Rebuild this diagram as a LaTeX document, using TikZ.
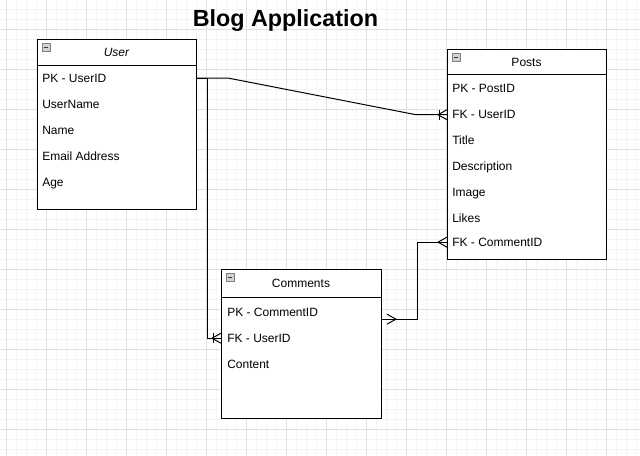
\documentclass[tikz,border=0pt]{standalone}
\usepackage{fontspec}
\setmainfont{Liberation Sans}
\usetikzlibrary{calc}

\definecolor{minorgrid}{HTML}{F4F4F4}
\definecolor{majorgrid}{HTML}{E0E0E0}

\tikzset{
  entity/.style={draw, line width=0.75pt, anchor=north west, inner sep=0pt},
  attr/.style={anchor=base west, inner sep=0pt, font=\fontsize{9}{11}\selectfont},
  head/.style={anchor=base, inner sep=0pt, font=\fontsize{9}{11}\selectfont},
  conn/.style={line width=0.75pt},
  collapse/.pic={
    \draw[draw=gray, fill=gray!35, line width=0.6pt] (5,4.5) rectangle (13,12);
    \draw[line width=0.8pt, black!80] (7,8.25) -- (11,8.25);
  },
  crowfoot/.pic={% fork opens toward the entity at the origin
    \draw[conn] (-9,0) -- (0,-5) (-9,0) -- (0,5);
  },
  onebar/.pic={
    \draw[conn] (-8,-5) -- (-8,5);
  },
}

\begin{document}
\begin{tikzpicture}[x=0.75pt,y=-0.75pt]
        \useasboundingbox (0,0) rectangle (640,456);
        \fill[white] (0,0) rectangle (640,456);

        % background grid
        \foreach \gx in {6.7,16.7,...,640} \draw[minorgrid,line width=0.75pt] (\gx,0) -- (\gx,456);
        \foreach \gy in {9.3,19.3,...,456} \draw[minorgrid,line width=0.75pt] (0,\gy) -- (640,\gy);
        \foreach \gx in {6.7,46.7,...,640} \draw[majorgrid,line width=0.75pt] (\gx,0) -- (\gx,456);
        \foreach \gy in {29.3,69.3,...,456} \draw[majorgrid,line width=0.75pt] (0,\gy) -- (640,\gy);

        \node[anchor=base, inner sep=0pt, font=\bfseries\fontsize{17.5}{20}\selectfont] (title) at (285.5,26.5) {Blog Application};

        % User
        \node[entity, fill=white, minimum width=119.25pt, minimum height=127.5pt] (user) at (37,39) {};
        \draw[line width=0.75pt] (user.north west) ++(0,26.5) -- ++(159,0);
        \pic at (user.north west) {collapse};
        \node[head, font=\itshape\fontsize{9}{11}\selectfont] (usertitle) at (116.5,56.8) {User};
        \node[attr] (userpk) at (42,82.3) {PK - UserID};
        \node[attr] (username) at (42,108.3) {UserName};
        \node[attr] (username2) at (42,134.3) {Name};
        \node[attr] (useremail) at (42,160.3) {Email Address};
        \node[attr] (userage) at (42,186.3) {Age};

        % Posts
        \node[entity, fill=white, minimum width=119.25pt, minimum height=157.5pt] (posts) at (447,49) {};
        \draw[line width=0.75pt] (posts.north west) ++(0,26) -- ++(159,0);
        \pic at (posts.north west) {collapse};
        \node[head] (poststitle) at (526.5,66.8) {Posts};
        \node[attr] (postspk) at (452,92.3) {PK - PostID};
        \node[attr] (postsfkuser) at (452,118.8) {FK - UserID};
        \node[attr] (poststitlecol) at (452,144.3) {Title};
        \node[attr] (postsdesc) at (452,170.3) {Description};
        \node[attr] (postsimage) at (452,196.3) {Image};
        \node[attr] (postslikes) at (452,222.3) {Likes};
        \node[attr] (postsfkcomment) at (452,246.3) {FK - CommentID};

        % Comments
        \node[entity, fill=white, minimum width=120pt, minimum height=111.75pt] (comments) at (221,269) {};
        \draw[line width=0.75pt] (comments.north west) ++(0,29) -- ++(160,0);
        \pic at (comments.north west) {collapse};
        \node[head] (commentstitle) at (301,287.3) {Comments};
        \node[attr] (commentspk) at (227,316.3) {PK - CommentID};
        \node[attr] (commentsfkuser) at (227,342.3) {FK - UserID};
        \node[attr] (commentscontent) at (227,368.3) {Content};

        % relations
        \draw[conn] (user.east |- userpk) -- ++(32,0) -- ($(posts.west |- postsfkuser)+(-31,0)$) -- (posts.west |- postsfkuser);
        \pic at (posts.west |- postsfkuser) {crowfoot};
        \pic at (posts.west |- postsfkuser) {onebar};

        \draw[conn] (user.east |- userpk) -- ++(10,0) |- (comments.west |- commentsfkuser);
        \pic at (comments.west |- commentsfkuser) {crowfoot};
        \pic at (comments.west |- commentsfkuser) {onebar};

        \draw[conn] ($(comments.east |- commentspk)+(0,7)$) -- ++(35,0) |- (posts.west |- postsfkcomment);
        \pic[xscale=-1] at ($(comments.east |- commentspk)+(5,7)$) {crowfoot};
        \pic at (posts.west |- postsfkcomment) {crowfoot};
    \end{tikzpicture}
\end{document}
